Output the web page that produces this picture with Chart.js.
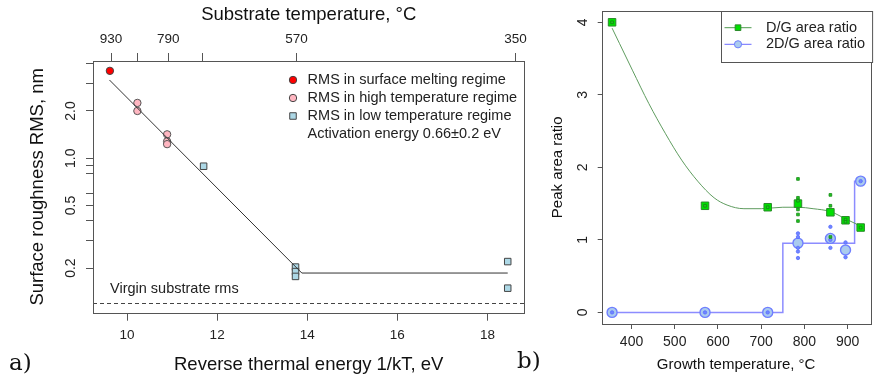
<!DOCTYPE html>
<html>
<head>
<meta charset="utf-8">
<script src="https://cdn.jsdelivr.net/npm/chart.js@4.4.1/dist/chart.umd.min.js"></script>
<style>
    html, body { margin: 0; padding: 0; background: #fff; overflow: hidden; }
    #wrap { position: relative; width: 875px; height: 380px; }
    #panelA { position: absolute; left: 0; top: 0; }
    #panelB { position: absolute; left: 530px; top: 0; }
    .tag { position: absolute; font-family: 'DejaVu Serif', 'Liberation Serif', serif; font-size: 23px; color: #111; }
</style>
</head>
<body>
<div id="wrap">
    <canvas id="panelA" width="530" height="380"></canvas>
    <canvas id="panelB" width="347" height="380"></canvas>
    <div class="tag" style="left:9px;top:349px">a)</div>
    <div class="tag" style="left:517px;top:347px">b)</div>
</div>
<script>
'use strict';

// ---- panel a: roughness vs 1/kT ----
const K_B = 8.617e-5;
const meltX = [9.62];
const meltRms = [3.6];
const highX = [10.23, 10.23, 10.89, 10.89, 10.89];
const highRms = [2.25, 2.0, 1.42, 1.28, 1.23];
const lowX = [11.70, 13.74, 13.74, 13.74, 18.45, 18.45];
const lowRms = [0.89, 0.203, 0.19, 0.177, 0.22, 0.149];
const fitX = [9.61, 13.88, 18.45];
const fitRms = [3.15, 0.186, 0.186];
const virginRms = 0.12;
const energyTicks = [10, 12, 14, 16, 18];
const rmsTicks = [0.2, 0.3, 0.4, 0.5, 0.6, 0.8, 0.9, 1, 2, 3, 4];
const rmsLabels = { '0.2': '0.2', '0.5': '0.5', '1': '1.0', '2': '2.0' };
const substrateTicks = [930, 860, 790, 720, 570, 350];
const substrateLabels = ['930', '', '790', '', '570', '350'];
const legendALabels = [
    'RMS in surface melting regime',
    'RMS in high temperature regime',
    'RMS in low temperature regime',
    'Activation energy 0.66\u00b10.2 eV',
];

// ---- panel b: Raman peak area ratios ----
const growthT = [355, 570, 715, 785, 860, 895, 930];
const dgMean = [4.0, 1.47, 1.45, 1.50, 1.38, 1.27, 1.17];
const r2dMean = [0, 0, 0, 0.955, 1.02, 0.86, 1.81];
const dgSampleT = [355, 570, 715, 785, 785, 785, 785, 785, 785, 860, 860, 860, 895, 895, 930];
const dgSample = [4.0, 1.47, 1.45, 1.84, 1.58, 1.54, 1.42, 1.35, 1.26, 1.62, 1.47, 1.04, 1.28, 1.25, 1.17];
const r2dSampleT = [355, 570, 715, 785, 785, 785, 785, 785, 860, 860, 860, 895, 895, 930];
const r2dSample = [0, 0, 0, 1.09, 1.04, 0.89, 0.84, 0.75, 1.18, 1.0, 0.89, 0.965, 0.76, 1.81];
const dgFitT = [355, 372, 402, 440, 478, 516, 553, 591, 621, 660, 700, 750, 785, 820, 860, 895, 930];
const dgFit = [3.92, 3.71, 3.34, 2.88, 2.47, 2.10, 1.81, 1.58, 1.48, 1.43, 1.43, 1.45, 1.45, 1.43, 1.39, 1.29, 1.19];
const stepT = [355, 750, 750, 916, 916, 930];
const stepRatio = [0, 0, 0.955, 0.955, 1.81, 1.81];
const growthTicks = [400, 500, 600, 700, 800, 900];
const ratioTicks = [0, 1, 2, 3, 4];
const legendBLabels = ['D/G area ratio', '2D/G area ratio'];

const FONT = "'Liberation Sans', Arial, sans-serif";
Chart.defaults.font.family = FONT;
Chart.defaults.color = '#222';

function pairs(xs, ys) {
    return xs.map(function (x, i) { return { x: x, y: ys[i] }; });
}

function fixSize(prop, size) {
    return function (scale) {
        scale[prop] = size;
        scale.paddingLeft = 0;
        scale.paddingRight = 0;
        scale.paddingTop = 0;
        scale.paddingBottom = 0;
    };
}

function setTicks(values) {
    return function (scale) {
        scale.ticks = values.map(function (v) { return { value: v }; });
    };
}

function tickGrid(len) {
    return { drawOnChartArea: false, drawTicks: true, tickLength: len, color: '#555' };
}

const boxPlugin = {
    id: 'box',
    afterDraw: function (chart) {
        const a = chart.chartArea;
        const ctx = chart.ctx;
        ctx.save();
        ctx.strokeStyle = '#555';
        ctx.lineWidth = 1;
        ctx.strokeRect(Math.round(a.left) + 0.5, Math.round(a.top) + 0.5,
            Math.round(a.right - a.left), Math.round(a.bottom - a.top));
        ctx.restore();
    },
};

const virginPlugin = {
    id: 'virgin',
    beforeDatasetsDraw: function (chart) {
        const a = chart.chartArea;
        const ctx = chart.ctx;
        const y = Math.round(chart.scales.y.getPixelForValue(virginRms)) + 0.5;
        ctx.save();
        ctx.strokeStyle = '#444';
        ctx.lineWidth = 1;
        ctx.setLineDash([4, 3]);
        ctx.beginPath();
        ctx.moveTo(a.left, y);
        ctx.lineTo(a.right, y);
        ctx.stroke();
        ctx.setLineDash([]);
        ctx.fillStyle = '#222';
        ctx.font = '14.5px ' + FONT;
        ctx.textBaseline = 'middle';
        ctx.fillText('Virgin substrate rms', a.left + 17, y - 15);
        ctx.restore();
    },
};

const legendAPlugin = {
    id: 'legendA',
    afterDraw: function (chart) {
        const a = chart.chartArea;
        const ctx = chart.ctx;
        const mx = a.left + 200;
        const styles = [
            { pointStyle: 'circle', radius: 3.7, fill: '#ff0000' },
            { pointStyle: 'circle', radius: 3.7, fill: '#ffb6c1' },
            { pointStyle: 'rect', radius: 4.6, fill: '#add8e6' },
        ];
        ctx.save();
        ctx.font = '14.5px ' + FONT;
        ctx.textBaseline = 'middle';
        legendALabels.forEach(function (label, i) {
            const y = a.top + 19 + i * 18;
            const st = styles[i];
            if (st) {
                ctx.fillStyle = st.fill;
                ctx.strokeStyle = '#444';
                ctx.lineWidth = 1;
                Chart.helpers.drawPoint(ctx, { pointStyle: st.pointStyle, radius: st.radius, rotation: 0, borderWidth: 1 }, mx, y);
            }
            ctx.fillStyle = '#222';
            ctx.fillText(label, mx + 14.6, y);
        });
        ctx.restore();
    },
};

new Chart(document.getElementById('panelA'), {
    type: 'scatter',
    data: {
        datasets: [
            {
                type: 'line',
                data: pairs(fitX, fitRms),
                borderColor: '#333',
                borderWidth: 1,
                pointRadius: 0,
                tension: 0,
            },
            {
                data: pairs(meltX, meltRms),
                pointRadius: 3.7,
                backgroundColor: '#ff0000',
                borderColor: '#444',
                borderWidth: 1,
            },
            {
                data: pairs(highX, highRms),
                pointRadius: 3.7,
                backgroundColor: '#ffb6c1',
                borderColor: '#555',
                borderWidth: 1,
            },
            {
                data: pairs(lowX, lowRms),
                pointStyle: 'rect',
                pointRadius: 4.6,
                backgroundColor: '#add8e6',
                borderColor: '#444',
                borderWidth: 1,
            },
        ],
    },
    options: {
        responsive: false,
        animation: false,
        devicePixelRatio: 1,
        events: [],
        layout: { padding: { left: 0, right: 4, top: 0, bottom: 0 } },
        plugins: { legend: { display: false }, tooltip: { enabled: false } },
        scales: {
            x: {
                type: 'linear',
                position: 'bottom',
                min: 9.245,
                max: 18.82,
                afterBuildTicks: setTicks(energyTicks),
                afterFit: fixSize('height', 67.3),
                grid: tickGrid(8),
                border: { display: false },
                ticks: { font: { size: 13.5 }, padding: 6, color: '#222' },
                title: {
                    display: true,
                    text: 'Reverse thermal energy 1/kT, eV',
                    font: { size: 18.5 },
                    padding: { top: 0, bottom: 3.9 },
                    color: '#111',
                },
            },
            xTop: {
                type: 'linear',
                position: 'top',
                min: 9.245,
                max: 18.82,
                afterBuildTicks: function (scale) {
                    scale.ticks = substrateTicks.map(function (t) {
                        return { value: 1 / (K_B * (t + 273.15)) };
                    });
                },
                afterFit: fixSize('height', 61),
                grid: tickGrid(8),
                border: { display: false },
                ticks: {
                    font: { size: 13.5 },
                    padding: 5.6,
                    color: '#222',
                    callback: function (v, i) { return substrateLabels[i]; },
                },
                title: {
                    display: true,
                    text: 'Substrate temperature, \u00b0C',
                    font: { size: 18.5 },
                    padding: { top: 3.9, bottom: 0 },
                    color: '#111',
                },
            },
            y: {
                type: 'logarithmic',
                position: 'left',
                min: 0.104,
                max: 4.16,
                afterBuildTicks: setTicks(rmsTicks),
                afterFit: fixSize('width', 93),
                grid: tickGrid(7),
                border: { display: false },
                ticks: {
                    font: { size: 14 },
                    minRotation: 90,
                    maxRotation: 90,
                    crossAlign: 'center',
                    padding: 5.5,
                    color: '#222',
                    callback: function (v) { return rmsLabels[String(v)] || ''; },
                },
                title: {
                    display: true,
                    text: 'Surface roughness RMS, nm',
                    font: { size: 18.5 },
                    padding: { top: 26.9, bottom: 0 },
                    color: '#111',
                },
            },
        },
    },
    plugins: [boxPlugin, virginPlugin, legendAPlugin],
});

const legendBPlugin = {
    id: 'legendB',
    afterDraw: function (chart) {
        const a = chart.chartArea;
        const ctx = chart.ctx;
        const bx = Math.round(a.left + 119) + 0.5;
        const by = Math.round(a.top) + 0.5;
        const items = [
            { color: '#4f9a4f', pointStyle: 'rect', radius: 4, fill: '#00e000', stroke: '#2a8a2a' },
            { color: '#6c6cff', pointStyle: 'circle', radius: 3.6, fill: '#aacbee', stroke: '#6f7fff' },
        ];
        ctx.save();
        ctx.fillStyle = '#fff';
        ctx.fillRect(bx, by, a.right + 2 - bx, 51);
        ctx.strokeStyle = '#555';
        ctx.lineWidth = 1;
        ctx.strokeRect(bx, by, a.right + 2 - bx, 51);
        ctx.font = '14.5px ' + FONT;
        ctx.textBaseline = 'middle';
        legendBLabels.forEach(function (label, i) {
            const it = items[i];
            const y = a.top + 17 + i * 16.6;
            ctx.strokeStyle = it.color;
            ctx.lineWidth = 1;
            ctx.beginPath();
            ctx.moveTo(bx + 3, y);
            ctx.lineTo(bx + 30, y);
            ctx.stroke();
            ctx.fillStyle = it.fill;
            ctx.strokeStyle = it.stroke;
            Chart.helpers.drawPoint(ctx, { pointStyle: it.pointStyle, radius: it.radius, rotation: 0, borderWidth: 1 }, bx + 16.5, y);
            ctx.fillStyle = '#222';
            ctx.fillText(label, bx + 44.5, y);
        });
        ctx.restore();
    },
};

new Chart(document.getElementById('panelB'), {
    type: 'scatter',
    data: {
        datasets: [
            {
                data: pairs(dgSampleT, dgSample),
                pointStyle: 'rect',
                pointRadius: 1.9,
                backgroundColor: '#22c822',
                borderColor: '#138813',
                borderWidth: 0.8,
            },
            {
                data: pairs(r2dSampleT, r2dSample),
                pointRadius: 1.7,
                backgroundColor: '#6f86ff',
                borderColor: '#5a6cff',
                borderWidth: 0.8,
            },
            {
                data: pairs(growthT, dgMean),
                pointStyle: 'rect',
                pointRadius: 5.3,
                backgroundColor: '#00e000',
                borderColor: '#2a8a2a',
                borderWidth: 1,
            },
            {
                data: pairs(growthT, r2dMean),
                pointRadius: 5,
                backgroundColor: '#aacbee',
                borderColor: '#6f7fff',
                borderWidth: 1.4,
            },
            {
                type: 'line',
                data: pairs(dgFitT, dgFit),
                borderColor: '#5f9c5f',
                borderWidth: 1,
                pointRadius: 0,
                cubicInterpolationMode: 'monotone',
            },
            {
                type: 'line',
                data: pairs(stepT, stepRatio),
                borderColor: '#8c8cff',
                borderWidth: 1.5,
                pointRadius: 0,
                tension: 0,
            },
        ],
    },
    options: {
        responsive: false,
        animation: false,
        devicePixelRatio: 1,
        events: [],
        layout: { padding: { left: 0, right: 1, top: 10.7, bottom: 0 } },
        plugins: { legend: { display: false }, tooltip: { enabled: false } },
        scales: {
            x: {
                type: 'linear',
                position: 'bottom',
                min: 331,
                max: 953,
                afterBuildTicks: setTicks(growthTicks),
                afterFit: fixSize('height', 56),
                grid: tickGrid(5),
                border: { display: false },
                ticks: { font: { size: 14 }, padding: 4.3, color: '#222' },
                title: {
                    display: true,
                    text: 'Growth temperature, \u00b0C',
                    font: { size: 15 },
                    padding: { top: 0, bottom: 6 },
                    color: '#111',
                },
            },
            y: {
                type: 'linear',
                position: 'left',
                min: -0.16,
                max: 4.16,
                afterBuildTicks: setTicks(ratioTicks),
                afterFit: fixSize('width', 71.7),
                grid: tickGrid(4),
                border: { display: false },
                ticks: {
                    font: { size: 14 },
                    minRotation: 90,
                    maxRotation: 90,
                    crossAlign: 'center',
                    padding: 10.5,
                    color: '#222',
                },
                title: {
                    display: true,
                    text: 'Peak area ratio',
                    font: { size: 15 },
                    padding: { top: 19.3, bottom: 0 },
                    color: '#111',
                },
            },
        },
    },
    plugins: [boxPlugin, legendBPlugin],
});
</script>
</body>
</html>
